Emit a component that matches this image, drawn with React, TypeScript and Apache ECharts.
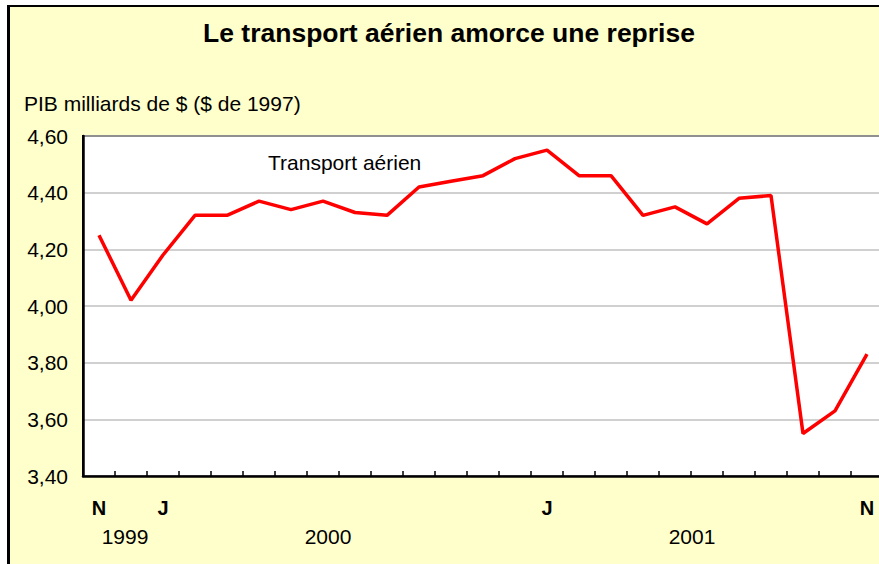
import React, { useEffect, useRef } from "react";
import * as echarts from "echarts";

const title = "Le transport aérien amorce une reprise";
const unitLabel = "PIB milliards de $ ($ de 1997)";
const seriesName = "Transport aérien";

const months = [
  "1999-11", "1999-12",
  "2000-01", "2000-02", "2000-03", "2000-04", "2000-05", "2000-06",
  "2000-07", "2000-08", "2000-09", "2000-10", "2000-11", "2000-12",
  "2001-01", "2001-02", "2001-03", "2001-04", "2001-05", "2001-06",
  "2001-07", "2001-08", "2001-09", "2001-10", "2001-11",
];

const monthTickLabels = [
  "N", "", "J", "", "", "", "", "", "", "", "", "", "", "",
  "J", "", "", "", "", "", "", "", "", "", "N",
];

const airTransport = [
  4.25, 4.02, 4.18, 4.32, 4.32, 4.37, 4.34, 4.37, 4.33, 4.32, 4.42, 4.44, 4.46,
  4.52, 4.55, 4.46, 4.46, 4.32, 4.35, 4.29, 4.38, 4.39, 3.55, 3.63, 3.83,
];

const yearLabels = ["1999", "2000", "2001"];

const FONT = "Liberation Sans, Arial, sans-serif";

export default function App() {
  const ref = useRef<HTMLDivElement>(null);

  useEffect(() => {
    if (!ref.current) return;
    const chart = echarts.init(ref.current, undefined, { renderer: "svg" });
    const yearX = [125, 328, 692];
    chart.setOption({
      animation: false,
      backgroundColor: "#ffffff",
      textStyle: { fontFamily: FONT },
      graphic: [
        {
          type: "rect",
          z: -10,
          silent: true,
          shape: { x: 7, y: 5, width: 900, height: 600 },
          style: { fill: "#FFFFCC" },
        },
        {
          type: "rect",
          z: -9,
          silent: true,
          shape: { x: 7, y: 5, width: 3, height: 600 },
          style: { fill: "#000000" },
        },
        {
          type: "rect",
          z: -9,
          silent: true,
          shape: { x: 7, y: 5, width: 900, height: 2 },
          style: { fill: "#000000" },
        },
        {
          type: "text",
          x: 449,
          y: 33,
          style: {
            text: title,
            fill: "#000",
            font: `bold 26.5px ${FONT}`,
            textAlign: "center",
            textVerticalAlign: "middle",
          },
        },
        {
          type: "text",
          x: 24,
          y: 103,
          style: {
            text: unitLabel,
            fill: "#000",
            font: `21px ${FONT}`,
            textAlign: "left",
            textVerticalAlign: "middle",
          },
        },
        {
          type: "text",
          x: 268,
          y: 162,
          z: 10,
          style: {
            text: seriesName,
            fill: "#000",
            font: `21px ${FONT}`,
            textAlign: "left",
            textVerticalAlign: "middle",
          },
        },
        ...yearLabels.map((y, i) => ({
          type: "text",
          x: yearX[i],
          y: 536,
          style: {
            text: y,
            fill: "#000",
            font: `21px ${FONT}`,
            textAlign: "center",
            textVerticalAlign: "middle",
          },
        })),
      ],
      grid: {
        left: 83,
        top: 136,
        width: 800,
        height: 340,
        show: true,
        backgroundColor: "#ffffff",
        borderColor: "#000000",
        borderWidth: 2,
        containLabel: false,
        outerBoundsMode: "none",
      },
      xAxis: {
        type: "category",
        data: months,
        boundaryGap: true,
        axisLine: { show: true, lineStyle: { color: "#000", width: 2.5 } },
        axisTick: {
          show: true,
          inside: true,
          length: 5,
          interval: 0,
          lineStyle: { color: "#000", width: 1.5 },
        },
        axisLabel: {
          interval: 0,
          margin: 22,
          color: "#000",
          fontSize: 20,
          fontWeight: "bold",
          fontFamily: FONT,
          formatter: (_v: string, idx: number) => monthTickLabels[idx],
        },
        splitLine: { show: false },
      },
      yAxis: {
        type: "value",
        min: 3.4,
        max: 4.6,
        interval: 0.2,
        axisLine: { show: true, lineStyle: { color: "#000", width: 2.5 } },
        axisTick: { show: false },
        axisLabel: {
          margin: 15,
          color: "#000",
          fontSize: 21,
          fontFamily: FONT,
          formatter: (v: number) => v.toFixed(2).replace(".", ","),
        },
        splitLine: { show: true, lineStyle: { color: "#C0C0C0", width: 1.5 } },
      },
      series: [
        {
          name: seriesName,
          type: "line",
          data: airTransport,
          showSymbol: false,
          symbol: "none",
          lineStyle: { color: "#FF0000", width: 3.5 },
          itemStyle: { color: "#FF0000" },
          z: 5,
        },
      ],
    });
    return () => chart.dispose();
  }, []);

  return (
    <div
      ref={ref}
      style={{ position: "fixed", left: 0, top: 0, width: 879, height: 564 }}
    />
  );
}
